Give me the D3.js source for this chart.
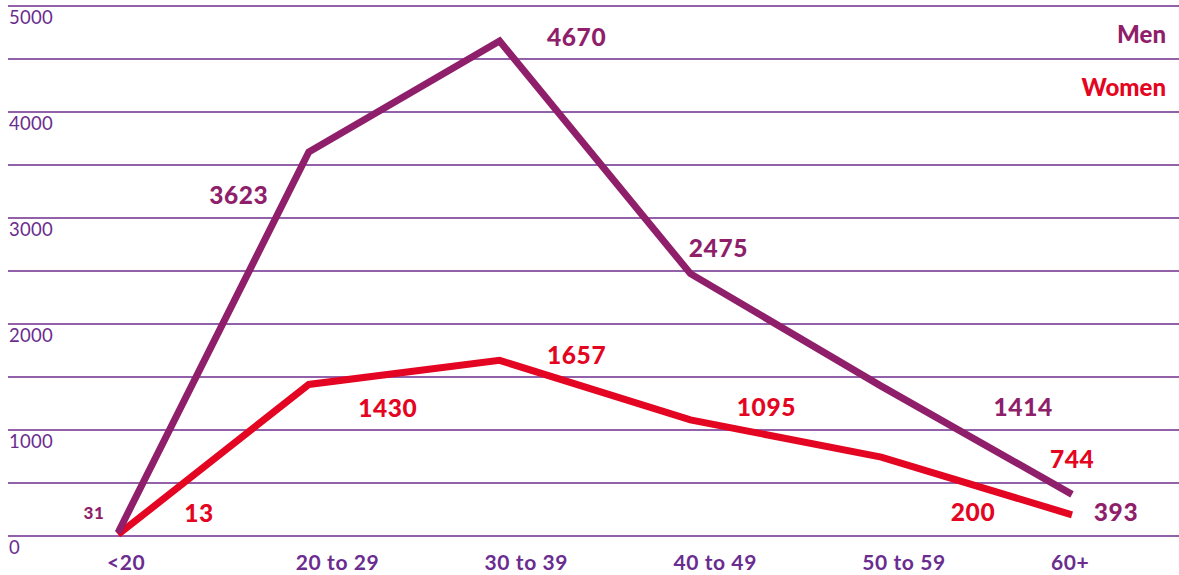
<!DOCTYPE html>
<html>
<head>
<meta charset="utf-8">
<script src="https://cdn.jsdelivr.net/npm/d3@7"></script>
<style>
  html, body { margin: 0; padding: 0; background: #ffffff; }
  svg { display: block; }
  text { font-family: Lato, "Noto Sans", sans-serif; }
</style>
</head>
<body>
<svg id="chart" width="1179" height="575"></svg>
<script>
// ---- data ----
const categories = ["<20", "20 to 29", "30 to 39", "40 to 49", "50 to 59", "60+"];
const menValues = [31, 3623, 4670, 2475, 1414, 393];
const womenValues = [13, 1430, 1657, 1095, 744, 200];
const yTicks = [0, 1000, 2000, 3000, 4000, 5000];
const gridValues = [0, 500, 1000, 1500, 2000, 2500, 3000, 3500, 4000, 4500, 5000];
const seriesNames = ["Men", "Women"];

// label placement offsets (relative to each data point)
const menLabelDx = [-24, -70, 77, 28, 142, 44];
const menLabelDy = [-14, 52, 5, -17, 30, 27];
const womenLabelDx = [81, 79, 77, 76, 191, -99];
const womenLabelDy = [-13, 33, 4, -4, 11, 6];

// ---- styles ----
const menColor = "#8f1f6b";
const womenColor = "#e30521";
const gridColor = "#6e2d8e";
const axisTextColor = "#6a2c8f";

const svg = d3.select("#chart");
const W = 1179, H = 575;

const y = d3.scaleLinear().domain([0, 5000]).range([536, 6]);
const x = d3.scalePoint().domain(categories).range([118, 1072]);
const xLab = d3.scalePoint().domain(categories).range([107, 1051]);

// gridlines
svg.append("g").selectAll("line").data(gridValues).join("line")
  .attr("x1", 8).attr("x2", W)
  .attr("y1", d => y(d)).attr("y2", d => y(d))
  .attr("stroke", gridColor).attr("stroke-width", 1.3);

// y tick labels
svg.append("g").selectAll("text").data(yTicks).join("text")
  .attr("x", 9).attr("y", d => y(d) + 18)
  .attr("fill", axisTextColor)
  .attr("font-size", 18.5)
  .attr("letter-spacing", 0.3)
  .text(d => d);

// x category labels
svg.append("g").selectAll("text").data(categories).join("text")
  .attr("x", d => xLab(d)).attr("y", 570)
  .attr("fill", axisTextColor)
  .attr("font-size", 21).attr("font-weight", "bold")
  .attr("letter-spacing", 0.6)
  .text(d => d);

const line = d3.line().x((d, i) => x(categories[i])).y(d => y(d));

svg.append("path").datum(womenValues)
  .attr("d", line).attr("fill", "none")
  .attr("stroke", womenColor).attr("stroke-width", 7)
  .attr("stroke-linejoin", "miter");

svg.append("path").datum(menValues)
  .attr("d", line).attr("fill", "none")
  .attr("stroke", menColor).attr("stroke-width", 7)
  .attr("stroke-linejoin", "miter");

// value labels
svg.append("g").selectAll("text").data(menValues).join("text")
  .attr("x", (d, i) => x(categories[i]) + menLabelDx[i])
  .attr("y", (d, i) => y(d) + menLabelDy[i])
  .attr("text-anchor", "middle")
  .attr("fill", menColor)
  .attr("font-weight", "900")
  .attr("font-size", (d, i) => i === 0 ? 17 : 24.5)
  .attr("letter-spacing", 0.6)
  .text(d => d);

svg.append("g").selectAll("text").data(womenValues).join("text")
  .attr("x", (d, i) => x(categories[i]) + womenLabelDx[i])
  .attr("y", (d, i) => y(d) + womenLabelDy[i])
  .attr("text-anchor", "middle")
  .attr("fill", womenColor)
  .attr("font-weight", "900")
  .attr("font-size", 24.5)
  .attr("letter-spacing", 0.6)
  .text(d => d);

// legend
const legendColors = [menColor, womenColor];
svg.append("g").selectAll("text").data(seriesNames).join("text")
  .attr("x", 1166).attr("y", (d, i) => 43 + i * 53)
  .attr("text-anchor", "end")
  .attr("fill", (d, i) => legendColors[i])
  .attr("font-weight", "900")
  .attr("font-size", 24)
  .text(d => d);
</script>
</body>
</html>
